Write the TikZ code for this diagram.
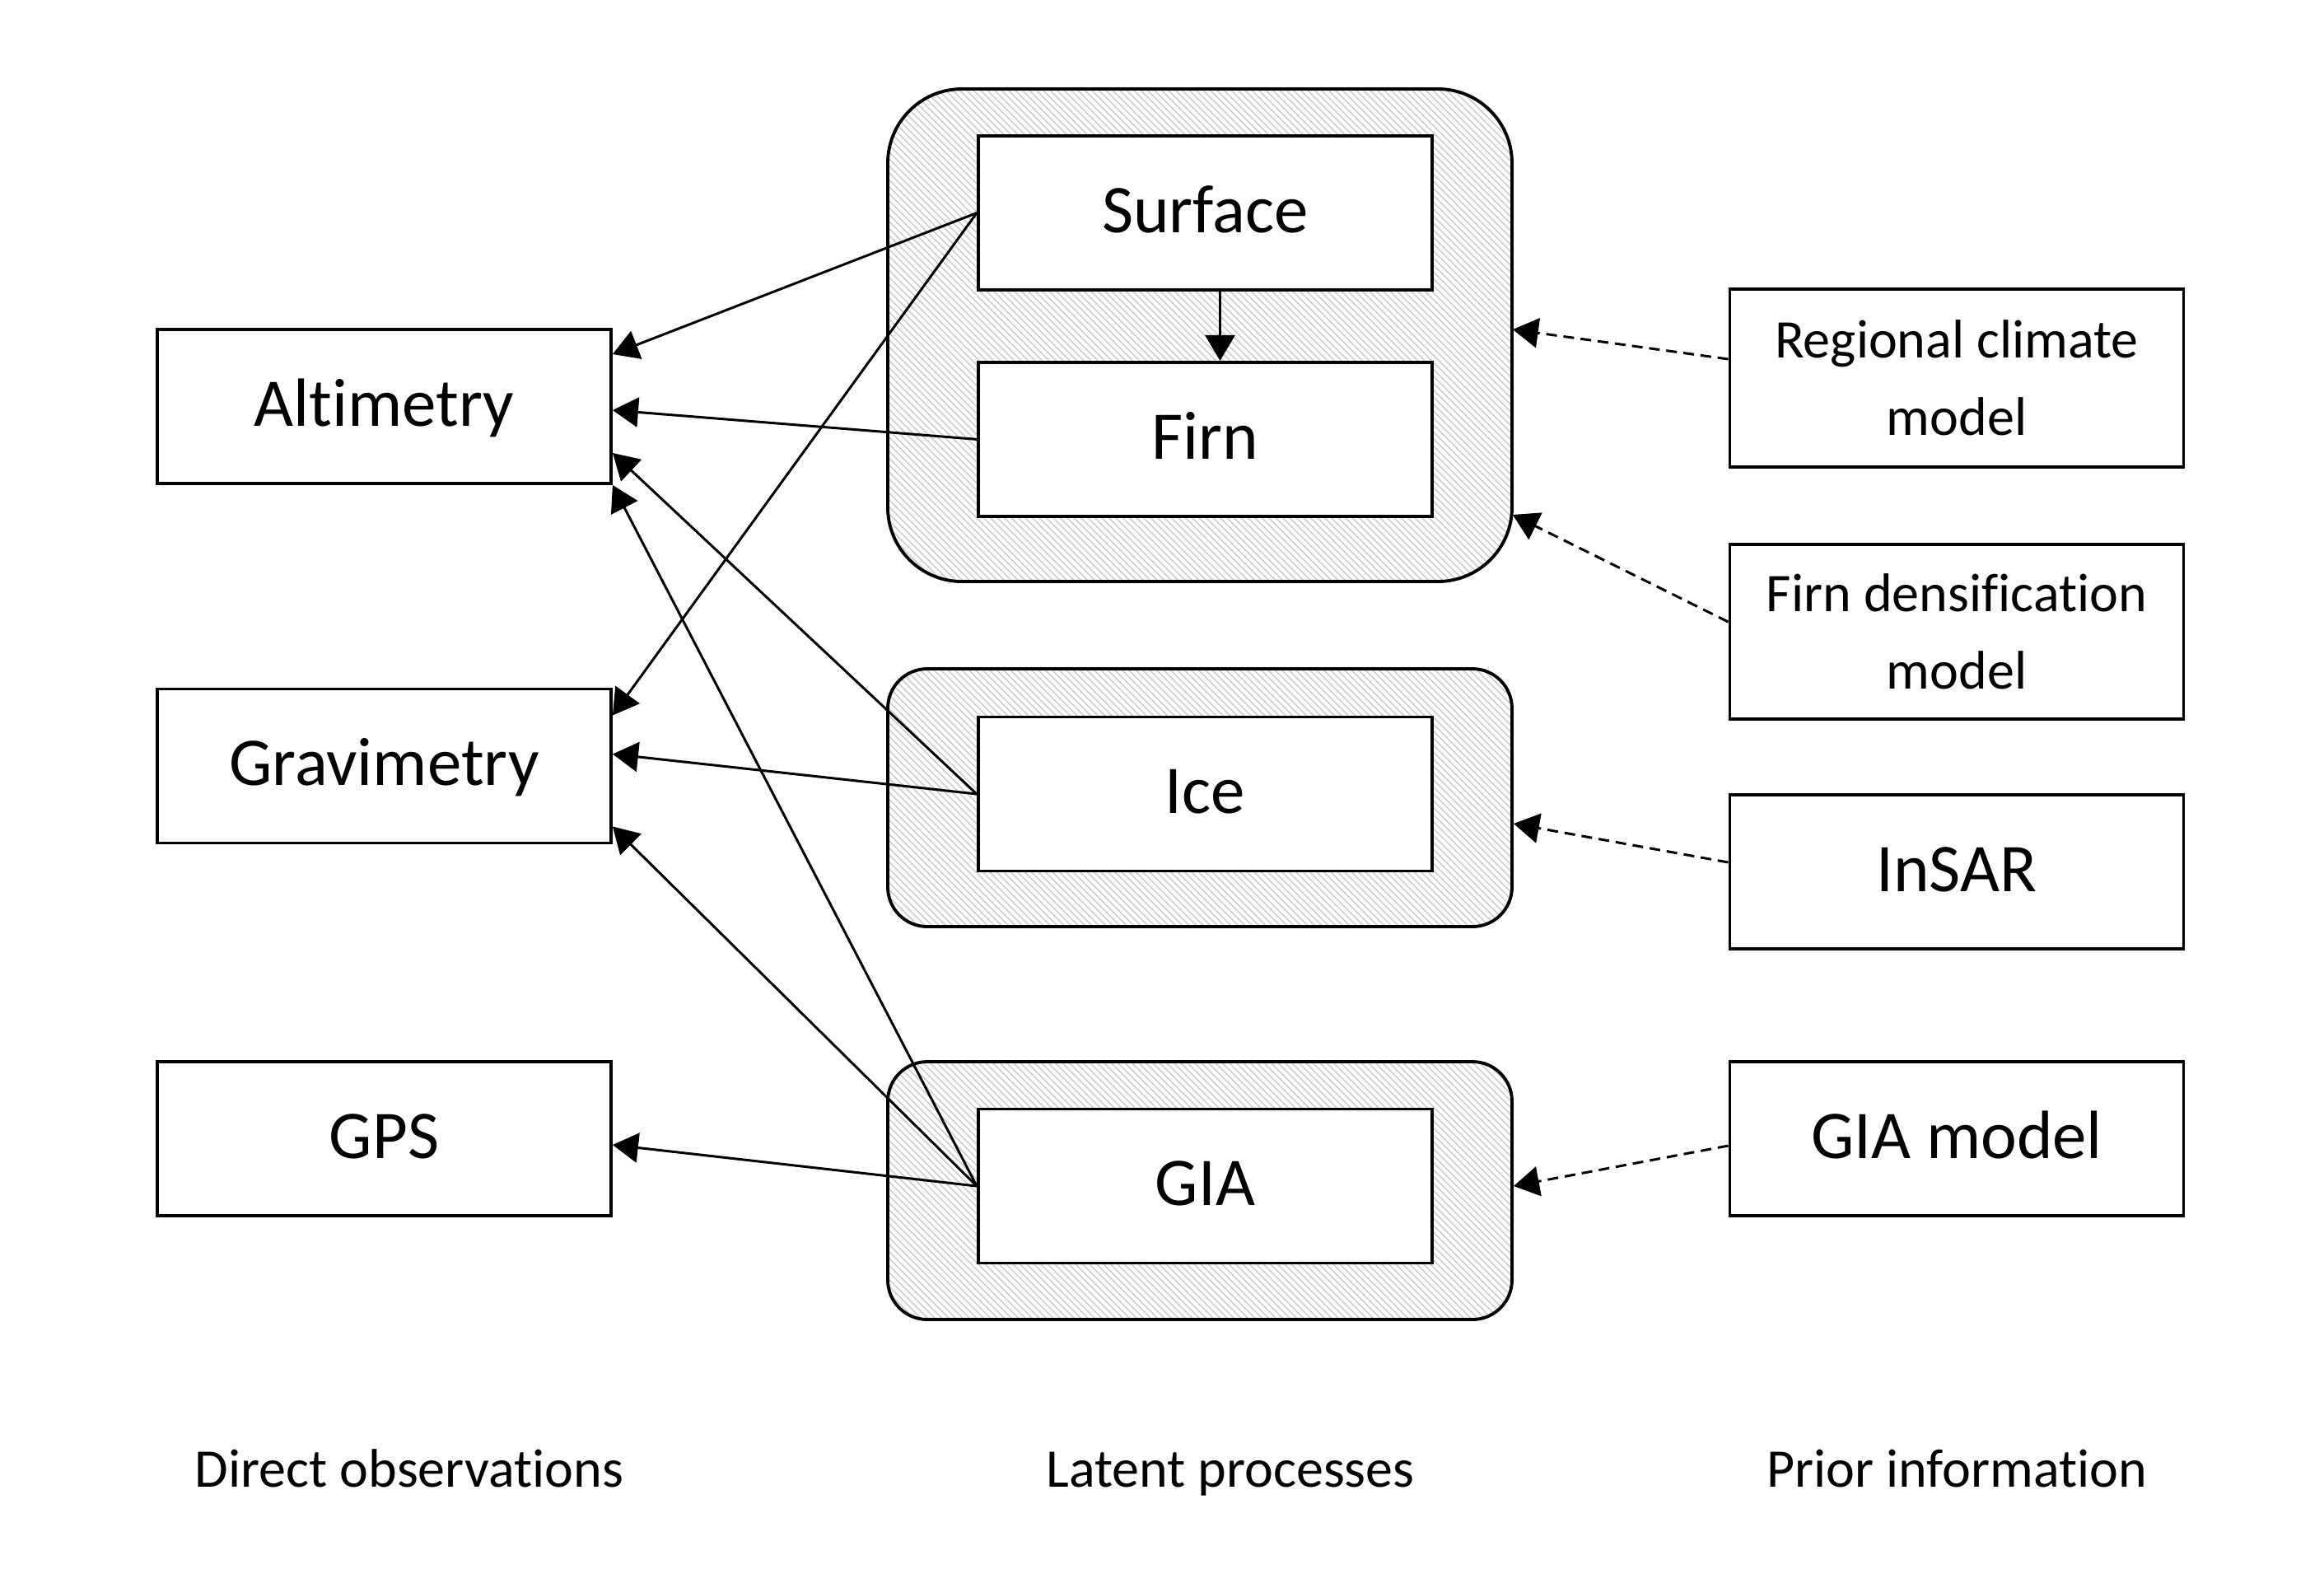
\documentclass[tikz,border=0pt]{standalone}
\usepackage{fontspec}
\setmainfont{Carlito}[Ligatures=NoCommon]
\usepackage{tikz}
\usetikzlibrary{arrows.meta, positioning, calc, patterns.meta}
\newcommand{\bigtxt}{\fontsize{23.6}{28}\selectfont}
\newcommand{\smalltxt}{\fontsize{18.8}{26.7}\selectfont}
\tikzstyle{obsbox} = [rectangle, draw=black, line width=1.1pt, fill=white, minimum width=5.51cm, minimum height=1.87cm, text centered, text height=17pt, text depth=3.5pt, font=\bigtxt]
\tikzstyle{priorbox} = [rectangle, draw=black, line width=1.1pt, fill=white, minimum width=5.51cm, minimum height=1.87cm, align=center, font=\bigtxt]
\tikzstyle{group} = [rectangle, draw=black, line width=1.1pt, minimum width=7.58cm, pattern={Lines[angle=-45,distance=1.7pt,line width=0.45pt]}, pattern color=gray!40]
\tikzstyle{link} = [line width=0.85pt, -{Triangle[length=3.1mm,width=3.6mm]}]
\tikzstyle{prior} = [link, dash pattern=on 0.13cm off 0.08cm]

\begin{document}
\begin{tikzpicture}[every node/.style={font=\smalltxt}]
    \useasboundingbox (0,0) rectangle (28.22,-19.27);

    % Latent process groups
    \node[group, minimum height=5.98cm, rounded corners=0.9cm] (g1) at (14.57,-4.07) {};
    \node[group, minimum height=3.13cm, rounded corners=0.48cm] (g2) at (14.57,-9.685) {};
    \node[group, minimum height=3.13cm, rounded corners=0.48cm] (g3) at (14.57,-14.455) {};

    % Direct observations
    \node[obsbox] (alt) at (4.665,-4.935) {Altimetry};
    \node[obsbox] (grav) at (4.665,-9.30) {Gravimetry};
    \node[obsbox] (gps) at (4.665,-13.825) {GPS};

    % Latent processes
    \node[obsbox] (surf) at (14.635,-2.585) {Surface};
    \node[obsbox, below=0.84cm of surf] (firn) {Firn};
    \node[obsbox] (ice) at (14.635,-9.64) {Ice};
    \node[obsbox] (gia) at (14.635,-14.40) {GIA};

    % Prior information
    \node[priorbox, font=\smalltxt, minimum height=2.16cm] (rcm) at (23.76,-4.59) {Regional climate\\model};
    \node[priorbox, font=\smalltxt, minimum height=2.12cm] (fdm) at (23.76,-7.67) {Firn densification\\model};
    \node[obsbox] (insar) at (23.76,-10.585) {InSAR};
    \node[obsbox] (giam) at (23.76,-13.825) {GIA model};

    % Column labels
    \node[anchor=base] (lobs) at (4.97,-18.05) {Direct observations};
    \node[anchor=base] (llat) at (14.94,-18.05) {Latent processes};
    \node[anchor=base] (lpri) at (23.76,-18.05) {Prior information};

    % Latent -> observations
    \draw[link] ([xshift=0.18cm]surf.south) -- ([xshift=0.18cm]firn.north);
    \draw[link] (surf.west) -- ([yshift=0.635cm]alt.east);
    \draw[link] (firn.west) -- ([yshift=-0.045cm]alt.east);
    \draw[link] (ice.west) -- ([yshift=-0.565cm]alt.east);
    \draw[link] (gia.west) -- (alt.south east);
    \draw[link] (surf.west) -- ([yshift=0.615cm]grav.east);
    \draw[link] (ice.west) -- ([yshift=0.145cm]grav.east);
    \draw[link] (gia.west) -- ([yshift=-0.735cm]grav.east);
    \draw[link] (gia.west) -- ([yshift=-0.075cm]gps.east);

    % Prior -> latent
    \draw[prior] ([yshift=0.23cm]rcm.west) -- ([yshift=0.07cm]g1.east);
    \draw[prior] ([yshift=0.12cm]fdm.west) -- ([yshift=-2.18cm]g1.east);
    \draw[prior] ([yshift=0.115cm]insar.west) -- ([yshift=-0.315cm]g2.east);
    \draw[prior] ([yshift=-0.085cm]giam.west) -- ([yshift=0.055cm]g3.east);
\end{tikzpicture}
\end{document}
